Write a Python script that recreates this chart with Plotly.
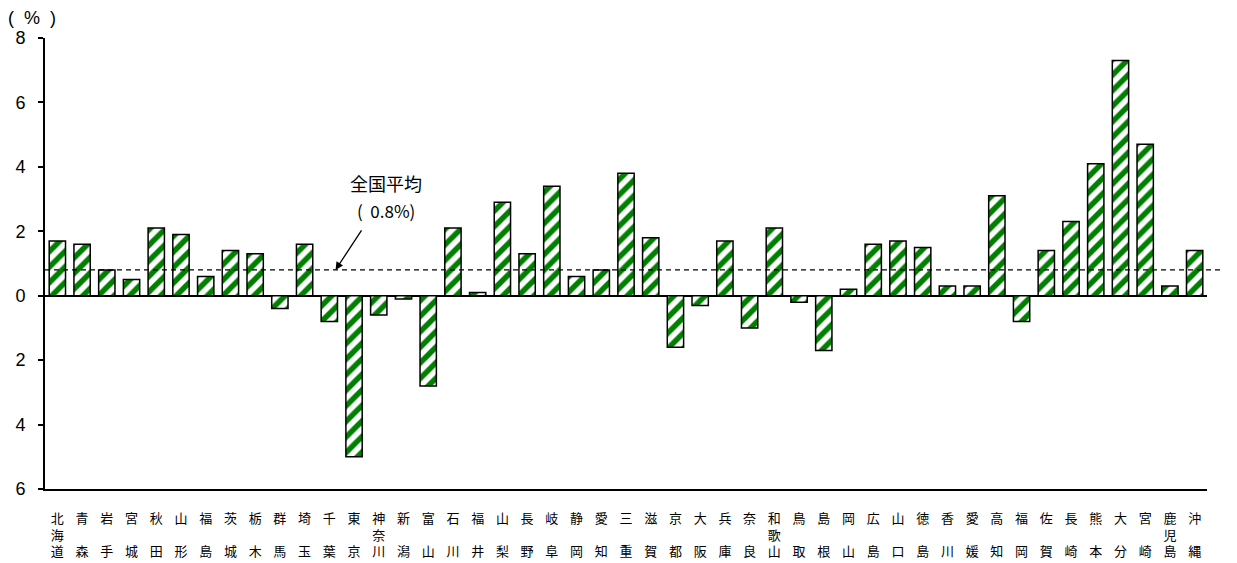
import plotly.graph_objects as go

prefectures = ["北海道", "青森", "岩手", "宮城", "秋田", "山形", "福島", "茨城", "栃木", "群馬",
               "埼玉", "千葉", "東京", "神奈川", "新潟", "富山", "石川", "福井", "山梨", "長野",
               "岐阜", "静岡", "愛知", "三重", "滋賀", "京都", "大阪", "兵庫", "奈良", "和歌山",
               "鳥取", "島根", "岡山", "広島", "山口", "徳島", "香川", "愛媛", "高知", "福岡",
               "佐賀", "長崎", "熊本", "大分", "宮崎", "鹿児島", "沖縄"]

values = [1.7, 1.6, 0.8, 0.5, 2.1, 1.9, 0.6, 1.4, 1.3, -0.4,
          1.6, -0.8, -5.0, -0.6, -0.1, -2.8, 2.1, 0.1, 2.9, 1.3,
          3.4, 0.6, 0.8, 3.8, 1.8, -1.6, -0.3, 1.7, -1.0, 2.1,
          -0.2, -1.7, 0.2, 1.6, 1.7, 1.5, 0.3, 0.3, 3.1, -0.8,
          1.4, 2.3, 4.1, 7.3, 4.7, 0.3, 1.4]

national_avg = 0.8

y_tickvals = [8, 6, 4, 2, 0, -2, -4, -6]
y_ticktext = ["8", "6", "4", "2", "0", "2", "4", "6"]


def vertical_label(name):
    chars = list(name)
    if len(chars) == 2:
        chars = [chars[0], "\u3000", chars[1]]
    return "<br>".join(chars)


x_idx = list(range(len(prefectures)))
x_text = [vertical_label(p) for p in prefectures]

fig = go.Figure()
fig.add_trace(go.Bar(
    x=x_idx, y=values,
    width=0.66,
    marker=dict(
        color="white",
        line=dict(color="black", width=1.5),
        pattern=dict(shape="/", fgcolor="#008000", bgcolor="white", fgopacity=1,
                     size=11, solidity=0.5),
    ),
    showlegend=False,
))

fig.add_shape(type="line", xref="paper", yref="y", x0=0, x1=1.013,
              y0=national_avg, y1=national_avg,
              line=dict(color="black", width=1.2, dash="5px,4px"))

fig.add_annotation(x=11.25, y=national_avg, xref="x", yref="y", text="",
                   showarrow=True, ax=27, ay=-41, arrowhead=2, arrowsize=1.2,
                   arrowwidth=1.3, arrowcolor="black")
fig.add_annotation(x=13.3, y=3.5, xref="x", yref="y", text="全国平均", showarrow=False,
                   font=dict(family="Noto Sans CJK JP", size=18, color="black"))
fig.add_annotation(x=13.3, y=2.66, xref="x", yref="y", text="(  0.8%)", showarrow=False,
                   font=dict(family="Noto Sans CJK JP", size=17, color="black"))
fig.add_annotation(x=-0.0112, y=1.0443, xref="paper", yref="paper", text="(  %  )",
                   showarrow=False, xanchor="center", yanchor="middle",
                   font=dict(family="Liberation Sans, Arial", size=18, color="black"))

fig.update_layout(
    width=1229, height=555,
    margin=dict(l=37, r=30, t=30, b=74, autoexpand=False),
    plot_bgcolor="white", paper_bgcolor="white",
    bargap=0.34,
)
fig.update_xaxes(
    range=[-0.5, len(prefectures) - 0.5],
    tickmode="array", tickvals=x_idx, ticktext=x_text, tickangle=0,
    ticks="", showgrid=False, zeroline=False,
    showline=True, linecolor="black", linewidth=2,
    tickfont=dict(family="Noto Sans CJK JP", size=13, color="black"),
    ticklabelstandoff=16, automargin=False,
)
fig.update_yaxes(
    range=[-6, 8],
    tickmode="array", tickvals=y_tickvals, ticktext=y_ticktext,
    ticks="outside", ticklen=5, tickcolor="black", tickwidth=1.5,
    showgrid=False, zeroline=True, zerolinecolor="black", zerolinewidth=1.5,
    showline=True, linecolor="black", linewidth=2,
    tickfont=dict(family="Liberation Sans, Arial", size=18, color="black"),
    ticklabelstandoff=9, automargin=False,
)

fig.write_html("out.html")
